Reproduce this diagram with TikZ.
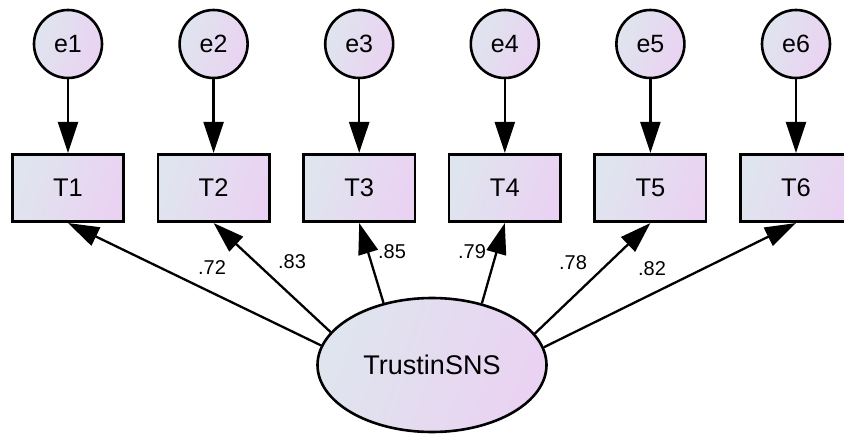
\documentclass[tikz,border=0pt]{standalone}
\usepackage{fontspec}
\setmainfont{Liberation Sans}
\usetikzlibrary{arrows.meta,shapes.geometric}
\definecolor{shadeA}{HTML}{DFE5EE}
\definecolor{shadeB}{HTML}{EAD2F2}

\begin{document}
\begin{tikzpicture}[x=1pt,y=-1pt,
  semfill/.style={top color=shadeA,bottom color=shadeB,shading angle=70},
  errvar/.style={circle,draw,line width=2.6pt,semfill,minimum size=68pt,
    inner sep=0pt,font=\fontsize{25}{30}\selectfont},
  obsvar/.style={rectangle,draw,line width=2.6pt,semfill,minimum width=111.5pt,
    minimum height=67.5pt,inner sep=0pt,font=\fontsize{25.5}{30}\selectfont},
  latvar/.style={ellipse,draw,line width=2.6pt,semfill,minimum width=229pt,
    minimum height=134pt,inner sep=0pt,font=\fontsize{27}{30}\selectfont},
  regarrow/.style={line width=2.3pt,-{Triangle[length=31pt,width=20pt]}},
  coef/.style={font=\fontsize{20}{24}\selectfont,inner sep=0pt}]
\useasboundingbox (0,0) rectangle (844,436);
\clip (0,0) rectangle (844,436);

% error terms and indicators
\foreach \i in {1,...,6} {
  \pgfmathsetmacro{\xc}{68+145.6*(\i-1)}
  \node[errvar] (e\i) at (\xc,44) {e\i};
  \node[obsvar] (T\i) at (\xc,188) {T\i};
  \draw[regarrow] (e\i) -- (T\i);
}

% latent factor
\node[latvar] (F) at (432,365) {TrustinSNS};

% loadings
\draw[regarrow] (F.170.9) -- (T1.south);
\draw[regarrow] (F.162.1) -- (T2.south);
\draw[regarrow] (F.128.9) -- (T3.south);
\draw[regarrow] (F.51.1)  -- (T4.south);
\draw[regarrow] (F.17.9)  -- (T5.south);
\draw[regarrow] (F.9.1)   -- (T6.south);

% standardized coefficients
\node[coef] (c1) at (212,268) {.72};
\node[coef] (c2) at (292,262) {.83};
\node[coef] (c3) at (392,252) {.85};
\node[coef] (c4) at (472,252) {.79};
\node[coef] (c5) at (573,263) {.78};
\node[coef] (c6) at (652,269) {.82};
\end{tikzpicture}
\end{document}
